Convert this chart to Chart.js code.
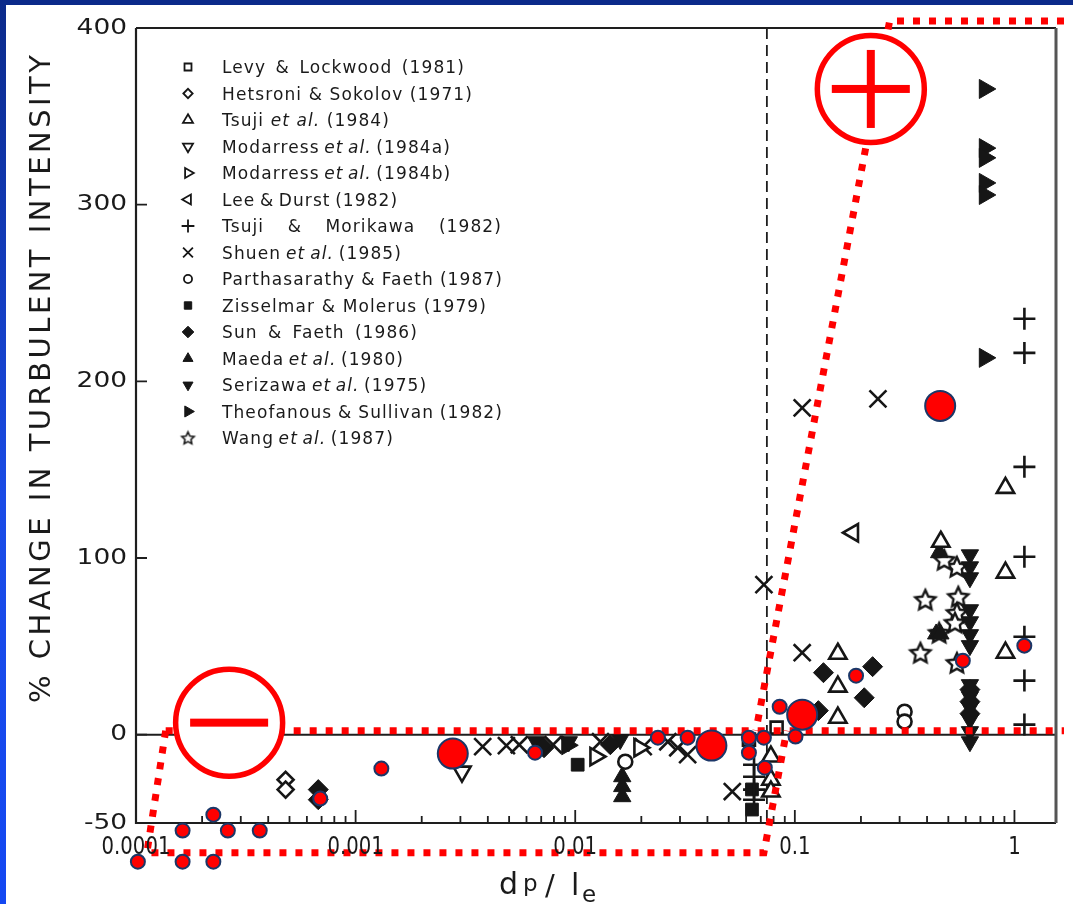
<!DOCTYPE html>
<html>
<head>
<meta charset="utf-8">
<script src="https://cdn.jsdelivr.net/npm/chart.js@4.4.1/dist/chart.umd.min.js"></script>
<style>
  html, body { margin: 0; padding: 0; background: #fff; overflow: hidden; }
  #wrap { position: relative; width: 1073px; height: 904px; background: #fff; }
  #wrap canvas { position: absolute; left: 0; top: 0; }
  #topband { position: absolute; left: 0; top: 0; width: 1073px; height: 5px; background: #0b2a8a; }
  #leftband { position: absolute; left: 0; top: 0; width: 6px; height: 904px;
              background: linear-gradient(#0b2a8a, #1a4be6 55%, #1448f2); }
</style>
</head>
<body>
<div id="wrap">
  <canvas id="chart" width="1073" height="904"></canvas>
  <div id="topband"></div>
  <div id="leftband"></div>
</div>
<script>
// ---- axis ticks ----
const xTickValues = [0.0001, 0.001, 0.01, 0.1, 1];
const xTickLabels = ['0.0001', '0.001', '0.01', '0.1', '1'];
const yTickValues = [-50, 0, 100, 200, 300, 400];
const yTickLabels = ['-50', '0', '100', '200', '300', '400'];

// ---- studies (underscores mark the italic part) ----
const studyLabels = [
  'Levy & Lockwood (1981)',
  'Hetsroni & Sokolov (1971)',
  'Tsuji _et al._ (1984)',
  'Modarress _et al._ (1984a)',
  'Modarress _et al._ (1984b)',
  'Lee & Durst (1982)',
  'Tsuji & Morikawa (1982)',
  'Shuen _et al._ (1985)',
  'Parthasarathy & Faeth (1987)',
  'Zisselmar & Molerus (1979)',
  'Sun & Faeth (1986)',
  'Maeda _et al._ (1980)',
  'Serizawa _et al._ (1975)',
  'Theofanous & Sullivan (1982)',
  'Wang _et al._ (1987)'
];

// ---- measurements: dp/le and % change in turbulent intensity ----
const levyX = [0.0826, 0.0618];
const levyY = [4.0, -2.8];
const hetsroniX = [0.00048, 0.00048];
const hetsroniY = [-25.5, -31.1];
const tsujiX = [0.157, 0.157, 0.157, 0.462, 0.91, 0.91, 0.91, 0.0778, 0.0778, 0.0778];
const tsujiY = [45.8, 27.2, 9.6, 109.2, 139.7, 91.7, 46.4, -12.4, -25.5, -32.2];
const modarressAX = [0.00305];
const modarressAY = [-20.9];
const modarressBX = [0.01236, 0.0196];
const modarressBY = [-12.4, -7.4];
const leeDurstX = [0.184];
const leeDurstY = [114.3];
const tsujiMorikawaX = [1.11, 1.11, 1.11, 1.11, 1.11, 1.11, 1.11, 0.0652, 0.0652, 0.0652, 0.0652];
const tsujiMorikawaY = [235.4, 216.1, 151.6, 100.7, 55.4, 30.6, 5.7, -17, -23.8, -31.1, -36.8];
const shuenX = [0.108, 0.239, 0.0723, 0.108, 0.0519, 0.00379, 0.00486, 0.00556, 0.00793, 0.01303, 0.0204, 0.0264, 0.0293, 0.0325];
const shuenY = [185, 190.1, 84.9, 46.4, -32.2, -6.8, -6.2, -5.7, -5.7, -4, -6.8, -4, -7.4, -11.3];
const parthasarathyX = [0.0169, 0.316, 0.316];
const parthasarathyY = [-15.3, 13, 7.4];
const zisselmarX = [0.01026, 0.0638, 0.0638];
const zisselmarY = [-17, -42.4, -31];
const sunFaethX = [0.000676, 0.000676, 0.135, 0.226, 0.207, 0.128, 0.627, 0.627, 0.627, 0.00721, 0.01445];
const sunFaethY = [-31.1, -36.8, 35.1, 38.5, 20.9, 13.6, 25.5, 18.7, 11.9, -7.4, -5.7];
const maedaX = [0.01637, 0.01637, 0.01637, 0.454, 0.44, 0.46];
const maedaY = [-23.8, -29.4, -35.1, 103, 57, 57];
const serizawaX = [0.627, 0.627, 0.627, 0.627, 0.627, 0.627, 0.627, 0.627, 0.627, 0.627, 0.627, 0.627, 0.627, 0.00664, 0.01603, 0.00935];
const serizawaY = [101.8, 95, 88.8, 70.7, 63.9, 56.6, 50.4, 28.3, 21.5, 15.3, 8.5, 1.7, -4, -4, -2.8, -4];
const theofanousX = [0.733, 0.733, 0.733, 0.733, 0.733, 0.733, 0.0092];
const theofanousY = [365.5, 332, 326.5, 312.3, 305.5, 213.3, -6];
const wangX = [0.547, 0.393, 0.555, 0.547, 0.536, 0.454, 0.373, 0.547, 0.479];
const wangY = [95, 76.4, 78.1, 69, 63.4, 57.7, 46.4, 40.7, 99];

// ---- highlighted results (size class: 1 small, 2 large) ----
const highlightX = [1.02e-4, 1.63e-4, 2.25e-4, 2.62e-4, 3.66e-4, 1.63e-4, 2.25e-4, 6.9e-4, 1.31e-3, 2.77e-3,
                    6.56e-3, 0.0238, 0.0325, 0.0417, 0.0618, 0.0618, 0.0723, 0.0730, 0.0853, 0.108,
                    0.1007, 0.19, 0.459, 0.582, 1.109];
const highlightY = [-71.9, -54.3, -45.3, -54.3, -54.3, -71.9, -71.9, -36.2, -19.2, -10.7,
                    -10.2, -1.7, -1.7, -6.2, -1.7, -10.2, -1.7, -18.7, 15.8, 11.3,
                    -1.1, 33.4, 186.1, 41.9, 50.4];
const highlightClass = [1, 1, 1, 1, 1, 1, 1, 1, 1, 2,
                        1, 1, 1, 2, 1, 1, 1, 1, 1, 2,
                        1, 1, 2, 1, 1];

// ---- attenuation / augmentation zones (dp/le, %) ----
const negZoneX = [1.365e-4, 1.121e-4, 0.0723, 0.0918];
const negZoneY = [2.26, -66.8, -66.8, 2.26];
const zoneFloorX = [1.365e-4, 1.681];
const zoneFloorY = [2.26, 2.26];
const posZoneX = [1.681, 0.2702, 0.0665];
const posZoneY = [404, 404, 2.26];
const signX = [2.655e-4, 0.2218];
const signY = [6.8, 365.5];
const signKind = ['minus', 'plus'];

// dp/le = const reference line
const referenceLineX = 0.0746;

// ---------------------------------------------------------------
const INK = '#161616';
const FONT = '"DejaVu Sans", "Noto Sans", sans-serif';

function makeStar(R, lw) {
  const s = Math.ceil(2 * R + 2 * lw + 2);
  const c = document.createElement('canvas');
  c.width = s; c.height = s;
  const g = c.getContext('2d');
  g.translate(s / 2, s / 2 + R * 0.08);
  g.beginPath();
  for (let i = 0; i < 10; i++) {
    const a = -Math.PI / 2 + i * Math.PI / 5;
    const rr = i % 2 ? R * 0.48 : R;
    g.lineTo(Math.cos(a) * rr, Math.sin(a) * rr);
  }
  g.closePath();
  g.fillStyle = '#fff'; g.fill();
  g.lineWidth = lw; g.lineJoin = 'miter'; g.strokeStyle = INK; g.stroke();
  return c;
}
const starBig = makeStar(10.5, 2.4);
const starSmall = makeStar(6.5, 1.6);

const markerStyles = [
  { shape: 'rect',     rot: 0,   filled: false, r: 8.5 },
  { shape: 'rectRot',  rot: 0,   filled: false, r: 8 },
  { shape: 'triangle', rot: 0,   filled: false, r: 10 },
  { shape: 'triangle', rot: 180, filled: false, r: 10 },
  { shape: 'triangle', rot: 90,  filled: false, r: 10 },
  { shape: 'triangle', rot: 270, filled: false, r: 10 },
  { shape: 'cross',    rot: 0,   filled: false, r: 11 },
  { shape: 'crossRot', rot: 0,   filled: false, r: 12 },
  { shape: 'circle',   rot: 0,   filled: false, r: 7 },
  { shape: 'rect',     rot: 0,   filled: true,  r: 9 },
  { shape: 'rectRot',  rot: 0,   filled: true,  r: 10 },
  { shape: 'triangle', rot: 0,   filled: true,  r: 10 },
  { shape: 'triangle', rot: 180, filled: true,  r: 10 },
  { shape: 'triangle', rot: 90,  filled: true,  r: 11 },
  { shape: 'star',     rot: 0,   filled: false, r: 10 }
];

const studyX = [levyX, hetsroniX, tsujiX, modarressAX, modarressBX, leeDurstX, tsujiMorikawaX, shuenX,
                parthasarathyX, zisselmarX, sunFaethX, maedaX, serizawaX, theofanousX, wangX];
const studyY = [levyY, hetsroniY, tsujiY, modarressAY, modarressBY, leeDurstY, tsujiMorikawaY, shuenY,
                parthasarathyY, zisselmarY, sunFaethY, maedaY, serizawaY, theofanousY, wangY];

const datasets = studyLabels.map((label, i) => {
  const st = markerStyles[i];
  return {
    label: label.replace(/_/g, ''),
    data: studyX[i].map((x, k) => ({ x, y: studyY[i][k] })),
    pointStyle: st.shape === 'star' ? starBig : st.shape,
    rotation: st.rot,
    radius: st.r,
    pointRadius: st.r,
    backgroundColor: st.filled ? INK : '#ffffff',
    borderColor: INK,
    borderWidth: st.filled ? 1 : 2.6,
    order: 1
  };
});

const HIGHLIGHT_INDEX = datasets.length;
datasets.push({
  label: 'highlighted',
  data: highlightX.map((x, k) => ({ x, y: highlightY[k] })),
  pointStyle: 'circle',
  pointRadius: highlightClass.map(c => (c === 2 ? 15 : 7)),
  backgroundColor: '#ff0000',
  borderColor: '#1b3768',
  borderWidth: 2,
  clip: false,
  order: 0
});

// ---- helpers ----
function toPx(chart, x, y) {
  return [chart.scales.x.getPixelForValue(x), chart.scales.y.getPixelForValue(y)];
}
function dottedPath(ctx, chart, xs, ys) {
  ctx.beginPath();
  xs.forEach((x, k) => {
    const [px, py] = toPx(chart, x, ys[k]);
    if (k === 0) ctx.moveTo(px, py); else ctx.lineTo(px, py);
  });
  ctx.stroke();
}

// Frame, inward ticks, zero line, reference line
const framePlugin = {
  id: 'frame',
  beforeDatasetsDraw(chart) {
    const { ctx, chartArea: a } = chart;
    const xs = chart.scales.x, ys = chart.scales.y;
    ctx.save();
    ctx.strokeStyle = '#1e1e1e';
    // dashed dp/le line
    ctx.lineWidth = 1.8;
    ctx.setLineDash([11, 6]);
    const rx = xs.getPixelForValue(referenceLineX);
    ctx.beginPath(); ctx.moveTo(rx, a.top); ctx.lineTo(rx, a.bottom); ctx.stroke();
    ctx.setLineDash([]);
    // zero line
    ctx.lineWidth = 2;
    const zy = ys.getPixelForValue(0);
    ctx.beginPath(); ctx.moveTo(a.left, zy); ctx.lineTo(a.right, zy); ctx.stroke();
    // box
    ctx.lineWidth = 2.2;
    ctx.beginPath();
    ctx.moveTo(a.left, a.top); ctx.lineTo(a.right, a.top);
    ctx.moveTo(a.left, a.top); ctx.lineTo(a.left, a.bottom); ctx.lineTo(a.right, a.bottom);
    ctx.stroke();
    ctx.strokeStyle = '#555';
    ctx.lineWidth = 3;
    ctx.beginPath(); ctx.moveTo(a.right, a.top); ctx.lineTo(a.right, a.bottom); ctx.stroke();
    // x ticks (inward)
    ctx.strokeStyle = '#1e1e1e';
    ctx.lineWidth = 1.8;
    ctx.beginPath();
    for (let d = -4; d <= 0; d++) {
      for (let k = 1; k <= 9; k++) {
        const v = k * Math.pow(10, d);
        if (v <= xs.min * 1.001 || v > xs.max) continue;
        const p = xs.getPixelForValue(v);
        const len = k === 1 ? 13 : 7;
        ctx.moveTo(p, a.bottom); ctx.lineTo(p, a.bottom - len);
      }
    }
    // y ticks (inward)
    yTickValues.forEach(v => {
      if (v === ys.min || v === ys.max) return;
      const p = ys.getPixelForValue(v);
      ctx.moveTo(a.left, p); ctx.lineTo(a.left + 11, p);
    });
    ctx.stroke();
    ctx.restore();
  },
  beforeDatasetDraw(chart, args) {
    if (args.index !== HIGHLIGHT_INDEX) return;
    const ctx = chart.ctx;
    ctx.save();
    ctx.strokeStyle = '#ff0000';
    ctx.lineWidth = 7;
    ctx.lineCap = 'butt';
    ctx.setLineDash([7, 9]);
    dottedPath(ctx, chart, zoneFloorX, zoneFloorY);
    dottedPath(ctx, chart, negZoneX, negZoneY);
    dottedPath(ctx, chart, posZoneX, posZoneY);
    ctx.setLineDash([]);
    signX.forEach((x, k) => {
      const [cx, cy] = toPx(chart, x, signY[k]);
      ctx.beginPath(); ctx.arc(cx, cy, 53.5, 0, Math.PI * 2);
      ctx.fillStyle = '#fff'; ctx.fill();
      ctx.lineWidth = 5.5; ctx.strokeStyle = '#ff0000'; ctx.stroke();
      ctx.fillStyle = '#ff0000';
      ctx.fillRect(cx - 39, cy - 4, 78, 8);
      if (signKind[k] === 'plus') ctx.fillRect(cx - 4, cy - 39, 8, 78);
    });
    ctx.restore();
    // let the highlighted results extend past the plotting box
    chart._savedArea = chart.chartArea;
    chart.chartArea = { left: 0, top: 0, right: chart.width, bottom: chart.height,
                        width: chart.width, height: chart.height };
  },
  afterDatasetDraw(chart, args) {
    if (args.index === HIGHLIGHT_INDEX && chart._savedArea) {
      chart.chartArea = chart._savedArea;
      chart._savedArea = null;
    }
  }
};

// Tick labels, axis titles and the study key
const textPlugin = {
  id: 'texts',
  afterDraw(chart) {
    const ctx = chart.ctx;
    const xs = chart.scales.x, ys = chart.scales.y;
    ctx.save();
    ctx.fillStyle = '#1a1a1a';

    // y tick labels
    ctx.font = '22px ' + FONT;
    ctx.textAlign = 'right';
    ctx.textBaseline = 'middle';
    yTickValues.forEach((v, i) => {
      ctx.save();
      ctx.translate(127, ys.getPixelForValue(v));
      ctx.scale(1.2, 1);
      ctx.fillText(yTickLabels[i], 0, 0);
      ctx.restore();
    });

    // x tick labels
    ctx.font = '24px ' + FONT;
    ctx.textAlign = 'center';
    xTickValues.forEach((v, i) => {
      ctx.save();
      ctx.translate(xs.getPixelForValue(v), 848);
      ctx.scale(0.82, 1);
      ctx.fillText(xTickLabels[i], 0, 0);
      ctx.restore();
    });

    // y title
    const yTitle = '% CHANGE IN TURBULENT INTENSITY';
    ctx.save();
    ctx.translate(50, 379);
    ctx.rotate(-Math.PI / 2);
    ctx.font = '29px ' + FONT;
    ctx.textAlign = 'center';
    ctx.textBaseline = 'alphabetic';
    ctx.letterSpacing = '0px';
    const nat = ctx.measureText(yTitle).width;
    const ls = (648 - nat) / (yTitle.length - 1);
    ctx.letterSpacing = ls.toFixed(2) + 'px';
    ctx.fillText(yTitle, ls / 2, 0);
    ctx.letterSpacing = '0px';
    ctx.restore();

    // x title: d_p / l_e
    ctx.textAlign = 'left';
    ctx.textBaseline = 'alphabetic';
    ctx.font = '500 30px ' + FONT;  ctx.fillText('d', 499, 894);
    ctx.font = '500 23px ' + FONT;  ctx.fillText('p', 523, 891);
    ctx.font = '500 29px ' + FONT;  ctx.fillText('/', 545, 895);
    ctx.font = '500 30px ' + FONT;  ctx.fillText('l', 571, 895);
    ctx.font = '500 23px ' + FONT;  ctx.fillText('e', 582, 902);

    // study key
    const legendTextEnd = [465, 473, 390, 447, 448, 390, 502, 402, 503, 487, 418, 400, 427, 503, 393];
    const symX = 188, textX = 222, row0 = 67, rowStep = 26.5, size = 17;
    studyLabels.forEach((label, i) => {
      const yRow = row0 + i * rowStep;
      const st = markerStyles[i];
      ctx.save();
      ctx.fillStyle = st.filled ? INK : '#fff';
      ctx.strokeStyle = INK;
      ctx.lineWidth = st.filled ? 1 : 1.8;
      Chart.helpers.drawPoint(ctx, {
        pointStyle: st.shape === 'star' ? starSmall : st.shape,
        rotation: st.rot,
        radius: st.r * 0.58,
        borderWidth: ctx.lineWidth
      }, symX, yRow);
      ctx.restore();

      const parts = label.split('_').map((t, k) => ({ t, italic: k % 2 === 1 }));
      const fontFor = p => (p.italic ? 'italic ' : '') + size + 'px ' + FONT;
      ctx.letterSpacing = '1.1px';
      ctx.wordSpacing = '0px';
      let natural = 0, spaces = 0;
      parts.forEach(p => {
        ctx.font = fontFor(p);
        natural += ctx.measureText(p.t).width;
        spaces += (p.t.match(/ /g) || []).length;
      });
      let ws = (legendTextEnd[i] - textX - natural) / Math.max(1, spaces);
      ws = Math.max(-2, Math.min(20, ws));
      ctx.wordSpacing = ws.toFixed(2) + 'px';
      let cx = textX;
      parts.forEach(p => {
        ctx.font = fontFor(p);
        ctx.fillText(p.t, cx, yRow + 6);
        cx += ctx.measureText(p.t).width;
      });
      ctx.letterSpacing = '0px';
      ctx.wordSpacing = '0px';
    });
    ctx.restore();
  }
};

new Chart(document.getElementById('chart'), {
  type: 'scatter',
  data: { datasets },
  options: {
    responsive: false,
    animation: false,
    devicePixelRatio: 1,
    events: [],
    layout: { padding: { left: 0, right: 8, top: 28, bottom: 0 } },
    plugins: { legend: { display: false }, tooltip: { enabled: false } },
    scales: {
      x: {
        type: 'logarithmic',
        min: 0.0001,
        max: 1.546,
        grid: { display: false },
        border: { display: false },
        ticks: { display: false },
        afterBuildTicks(s) { s.ticks = xTickValues.map(v => ({ value: v })); },
        afterFit(s) { s.height = 81; }
      },
      y: {
        type: 'linear',
        min: -50,
        max: 400,
        grid: { display: false },
        border: { display: false },
        ticks: { display: false },
        afterBuildTicks(s) { s.ticks = yTickValues.map(v => ({ value: v })); },
        afterFit(s) { s.width = 136; }
      }
    }
  },
  plugins: [framePlugin, textPlugin]
});
</script>
</body>
</html>
